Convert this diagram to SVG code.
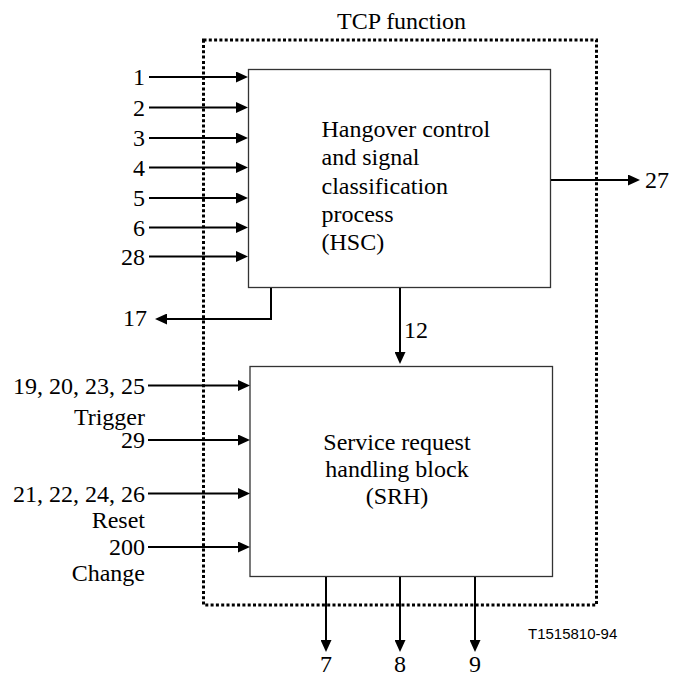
<svg xmlns="http://www.w3.org/2000/svg" width="682" height="679" viewBox="0 0 682 679">
  <style>
    .t { font-family: "Liberation Serif", "DejaVu Serif", "Noto Serif", "Times New Roman", Times, serif; font-size: 24px; fill: #000; }
    .r { text-anchor: end; }
    .m { text-anchor: middle; }
    .box { fill: #fff; stroke: #333; stroke-width: 1.3; }
    .ln { fill: none; stroke: #000; stroke-width: 2; }
    .frame { fill: none; stroke: #000; stroke-width: 3; stroke-dasharray: 3 2.3; }
    .code { font-family: "Liberation Sans", Arial, sans-serif; font-size: 15px; fill: #000; }
  </style>
  <defs>
    <marker id="ah" markerWidth="12" markerHeight="11" refX="6" refY="5.5" orient="auto" markerUnits="userSpaceOnUse">
      <path d="M0,0 L12,5.5 L0,11 z" fill="#000"/>
    </marker>
  </defs>
  <rect width="682" height="679" fill="#fff"/>

  <!-- TCP function boundary -->
  <g id="tcp-function">
    <rect class="frame" x="203.5" y="40" width="393" height="565"/>
    <text class="t" x="337" y="29">TCP function</text>
  </g>

  <!-- Hangover control and signal classification process -->
  <g id="hsc">
    <rect class="box" x="248.5" y="69.5" width="302" height="218"/>
    <text class="t" x="321.5" y="136.5">Hangover control</text>
    <text class="t" x="321.5" y="165">and signal</text>
    <text class="t" x="321.5" y="193.5">classification</text>
    <text class="t" x="321.5" y="222">process</text>
    <text class="t" x="321.5" y="250">(HSC)</text>
  </g>

  <!-- Service request handling block -->
  <g id="srh">
    <rect class="box" x="250" y="366.5" width="302.5" height="210"/>
    <text class="t m" x="397" y="450">Service request</text>
    <text class="t m" x="397" y="477">handling block</text>
    <text class="t m" x="397" y="504">(SRH)</text>
  </g>

  <!-- Signal lines -->
  <g id="connectors">
    <line class="ln" x1="149" y1="77" x2="242" y2="77" marker-end="url(#ah)"/>
    <line class="ln" x1="149" y1="107.5" x2="242" y2="107.5" marker-end="url(#ah)"/>
    <line class="ln" x1="149" y1="138" x2="242" y2="138" marker-end="url(#ah)"/>
    <line class="ln" x1="149" y1="167.5" x2="242" y2="167.5" marker-end="url(#ah)"/>
    <line class="ln" x1="149" y1="198" x2="242" y2="198" marker-end="url(#ah)"/>
    <line class="ln" x1="149" y1="227.5" x2="242" y2="227.5" marker-end="url(#ah)"/>
    <line class="ln" x1="149" y1="256.5" x2="242" y2="256.5" marker-end="url(#ah)"/>
    <line class="ln" x1="551" y1="180" x2="634" y2="180" marker-end="url(#ah)"/>
    <polyline class="ln" points="271,288 271,319 161,319" marker-end="url(#ah)"/>
    <line class="ln" x1="400" y1="288" x2="400" y2="358" marker-end="url(#ah)"/>
    <line class="ln" x1="148" y1="385.5" x2="244" y2="385.5" marker-end="url(#ah)"/>
    <line class="ln" x1="148" y1="440" x2="244" y2="440" marker-end="url(#ah)"/>
    <line class="ln" x1="148" y1="493.5" x2="244" y2="493.5" marker-end="url(#ah)"/>
    <line class="ln" x1="148" y1="547" x2="244" y2="547" marker-end="url(#ah)"/>
    <line class="ln" x1="326" y1="577" x2="326" y2="646" marker-end="url(#ah)"/>
    <line class="ln" x1="400" y1="577" x2="400" y2="646" marker-end="url(#ah)"/>
    <line class="ln" x1="475" y1="577" x2="475" y2="646" marker-end="url(#ah)"/>
  </g>

  <!-- Signal numbers -->
  <g id="labels">
    <text class="t r" x="145" y="85">1</text>
    <text class="t r" x="145" y="115.5">2</text>
    <text class="t r" x="145" y="146">3</text>
    <text class="t r" x="145" y="175.5">4</text>
    <text class="t r" x="145" y="206">5</text>
    <text class="t r" x="145" y="235.5">6</text>
    <text class="t r" x="145" y="264.5">28</text>
    <text class="t" x="645" y="188">27</text>
    <text class="t r" x="147" y="326">17</text>
    <text class="t" x="404" y="338">12</text>
    <text class="t r" x="145" y="394">19, 20, 23, 25</text>
    <text class="t r" x="145" y="424.5">Trigger</text>
    <text class="t r" x="145" y="448">29</text>
    <text class="t r" x="145" y="501.5">21, 22, 24, 26</text>
    <text class="t r" x="145" y="528">Reset</text>
    <text class="t r" x="145" y="555">200</text>
    <text class="t r" x="145" y="581">Change</text>
    <text class="t m" x="326" y="672">7</text>
    <text class="t m" x="400" y="672">8</text>
    <text class="t m" x="475" y="672">9</text>
    <text class="code" x="528" y="639">T1515810-94</text>
  </g>
</svg>
